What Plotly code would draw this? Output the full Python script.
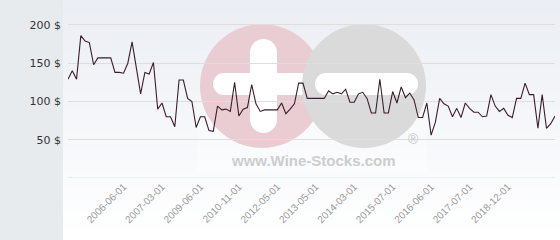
import plotly.graph_objects as go

# ---- data ----
prices = [129, 140, 129, 186, 179, 177, 148, 157, 157, 157,
          157, 138, 138, 137, 150, 178, 145, 110, 138, 136,
          151, 90, 98, 80, 80, 67, 128, 128, 104, 100,
          66, 80, 80, 62, 61, 94, 89, 90, 87, 125,
          81, 90, 92, 122, 97, 87, 89, 89, 89, 89,
          98, 84, 90, 97, 124, 124, 104, 104, 104, 104,
          104, 114, 110, 112, 110, 116, 99, 99, 110, 112,
          104, 85, 85, 129, 85, 85, 113, 98, 119, 105,
          111, 102, 79, 79, 98, 56, 73, 104, 97, 94,
          80, 91, 79, 98, 91, 86, 86, 80, 81, 109,
          94, 87, 91, 82, 79, 104, 104, 124, 109, 109,
          65, 109, 65, 71, 81]
tick_labels = ["2006-06-01", "2007-03-01", "2009-06-01", "2010-11-01",
               "2012-05-01", "2013-05-01", "2014-03-01", "2015-07-01",
               "2016-06-01", "2017-07-01", "2018-12-01"]
tick_index = [13, 22, 31, 40, 49, 58, 67, 76, 85, 94, 103]
y_ticks = [0, 50, 100, 150, 200]
y_tick_text = ["", "50 $", "100 $", "150 $", "200 $"]

W, H = 560, 240
ML, MR, MT, MB = 68, 5, 2, 62
PW, PH = W - ML - MR, H - MT - MB

x_idx = list(range(len(prices)))

fig = go.Figure()
fig.add_trace(go.Scatter(x=x_idx, y=prices, mode="lines",
                         line=dict(color="#3b1d2c", width=1.1),
                         hoverinfo="skip", showlegend=False))

shapes = []


def px_rect(x0, y0, x1, y1, color, opacity=1.0, ctype="rect"):
    # image pixel coords -> pixel offsets from bottom-left of plot area
    return dict(type=ctype, xref="paper", yref="paper", xsizemode="pixel",
                ysizemode="pixel", xanchor=0, yanchor=0,
                x0=x0 - ML, x1=x1 - ML, y0=(H - MB) - y1, y1=(H - MB) - y0,
                fillcolor=color, opacity=opacity, line=dict(width=0),
                layer="below")


# background gradient of the plot area
n = 24
top = (235, 238, 244)
bot = (255, 255, 255)
for i in range(n):
    t = i / (n - 1)
    c = tuple(round(top[k] + (bot[k] - top[k]) * t) for k in range(3))
    y0 = i * H / n
    shapes.append(px_rect(63, y0, W, y0 + H / n + 0.6, "rgb(%d,%d,%d)" % c))
# left grey panel
shapes.append(px_rect(0, 0, 63, H, "#e7ebee"))

# watermark
shapes.append(px_rect(197, 100, 427, 173, "#ffffff", 0.35))
pink = "#eacdd3"
grey = "#dadada"
white = "#ffffff"
shapes.append(px_rect(200, 24, 324, 148, pink, ctype="circle"))
# plus sign
shapes.append(px_rect(250, 52, 277, 120, white))
shapes.append(px_rect(250, 39, 277, 66, white, ctype="circle"))
shapes.append(px_rect(250, 106, 277, 133, white, ctype="circle"))
shapes.append(px_rect(224, 73, 312, 95, white))
shapes.append(px_rect(213, 73, 235, 95, white, ctype="circle"))
# grey circle with minus sign
shapes.append(px_rect(302, 24, 426, 148, grey, ctype="circle"))
shapes.append(px_rect(326, 73, 407, 95, white))
shapes.append(px_rect(315, 73, 337, 95, white, ctype="circle"))
shapes.append(px_rect(396, 73, 418, 95, white, ctype="circle"))
# baseline grid line at 0
shapes.append(dict(type="line", xref="paper", yref="y", x0=0, x1=1, y0=0, y1=0,
                   line=dict(color="#dedede", width=1), layer="below"))

annotations = [
    dict(text="<b>www.Wine-Stocks.com</b>", xref="paper", yref="paper",
         x=(313 - ML) / PW, y=((H - MB) - 160) / PH, showarrow=False,
         font=dict(family="Liberation Sans", size=15, color="#cdcdcd"),
         xanchor="center", yanchor="middle"),
    dict(text="®", xref="paper", yref="paper",
         x=(413 - ML) / PW, y=((H - MB) - 139) / PH, showarrow=False,
         font=dict(family="Liberation Sans", size=14, color="#c8c8c8"),
         xanchor="center", yanchor="middle"),
]

fig.update_layout(
    width=W, height=H,
    margin=dict(l=ML, r=MR, t=MT, b=MB, pad=0),
    paper_bgcolor="#ffffff",
    plot_bgcolor="rgba(0,0,0,0)",
    shapes=shapes,
    annotations=annotations,
    xaxis=dict(range=[0, len(prices) - 1], showgrid=False, zeroline=False,
               showline=False, ticks="", tickmode="array",
               tickvals=tick_index, ticktext=tick_labels, tickangle=-45,
               tickfont=dict(family="Liberation Sans", size=10, color="#9a9a9a"),
               fixedrange=True),
    yaxis=dict(range=[0, 230], showgrid=True, gridcolor="#dedede", gridwidth=1,
               zeroline=False, showline=False, ticks="", tickmode="array",
               tickvals=y_ticks, ticktext=y_tick_text, ticklabelstandoff=6,
               tickfont=dict(family="DejaVu Sans", size=11, color="#333333"),
               fixedrange=True),
    showlegend=False,
)

fig.write_html("out.html", include_plotlyjs=True, config={"displayModeBar": False})
